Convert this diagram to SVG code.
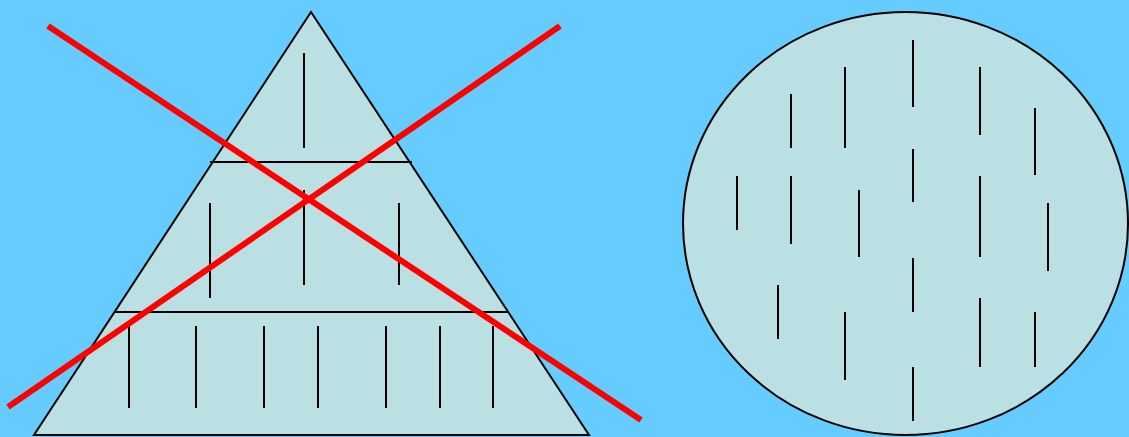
<svg xmlns="http://www.w3.org/2000/svg" width="1129" height="437" viewBox="0 0 1129 437">
<style>
.shape{fill:#BBE0E3;stroke:#000;stroke-width:2}
.tick{stroke:#000;stroke-width:2;fill:none}
.cross{stroke:#FF0000;stroke-width:6;fill:none}
</style>
<rect x="0" y="0" width="1129" height="437" fill="#66CCFF"/>
<g id="pyramid">
<polygon class="shape" points="311,12 589,435 34,435"/>
<line class="tick" x1="210" y1="162" x2="412" y2="162"/>
<line class="tick" x1="114" y1="312" x2="509" y2="312"/>
<line class="tick" x1="304" y1="53" x2="304" y2="148"/>
<line class="tick" x1="210" y1="203" x2="210" y2="298"/>
<line class="tick" x1="304" y1="190" x2="304" y2="285"/>
<line class="tick" x1="399" y1="203" x2="399" y2="285"/>
<line class="tick" x1="129" y1="326" x2="129" y2="408"/>
<line class="tick" x1="196" y1="326" x2="196" y2="408"/>
<line class="tick" x1="264" y1="326" x2="264" y2="408"/>
<line class="tick" x1="318" y1="326" x2="318" y2="408"/>
<line class="tick" x1="386" y1="326" x2="386" y2="408"/>
<line class="tick" x1="440" y1="326" x2="440" y2="408"/>
<line class="tick" x1="493" y1="326" x2="493" y2="408"/>
</g>
<g id="cross">
<line class="cross" x1="48" y1="26" x2="641" y2="420"/>
<line class="cross" x1="8" y1="407" x2="560" y2="26"/>
</g>
<g id="circle">
<ellipse class="shape" cx="905.5" cy="223.5" rx="222.5" ry="211.5"/>
<line class="tick" x1="913" y1="40" x2="913" y2="107"/>
<line class="tick" x1="845" y1="67" x2="845" y2="148"/>
<line class="tick" x1="791" y1="94" x2="791" y2="148"/>
<line class="tick" x1="980" y1="67" x2="980" y2="135"/>
<line class="tick" x1="1035" y1="108" x2="1035" y2="175"/>
<line class="tick" x1="913" y1="149" x2="913" y2="202"/>
<line class="tick" x1="737" y1="176" x2="737" y2="230"/>
<line class="tick" x1="791" y1="176" x2="791" y2="244"/>
<line class="tick" x1="859" y1="190" x2="859" y2="257"/>
<line class="tick" x1="980" y1="176" x2="980" y2="257"/>
<line class="tick" x1="1048" y1="203" x2="1048" y2="271"/>
<line class="tick" x1="913" y1="258" x2="913" y2="312"/>
<line class="tick" x1="778" y1="285" x2="778" y2="339"/>
<line class="tick" x1="845" y1="312" x2="845" y2="380"/>
<line class="tick" x1="980" y1="298" x2="980" y2="367"/>
<line class="tick" x1="1035" y1="312" x2="1035" y2="367"/>
<line class="tick" x1="913" y1="367" x2="913" y2="421"/>
</g>
</svg>
